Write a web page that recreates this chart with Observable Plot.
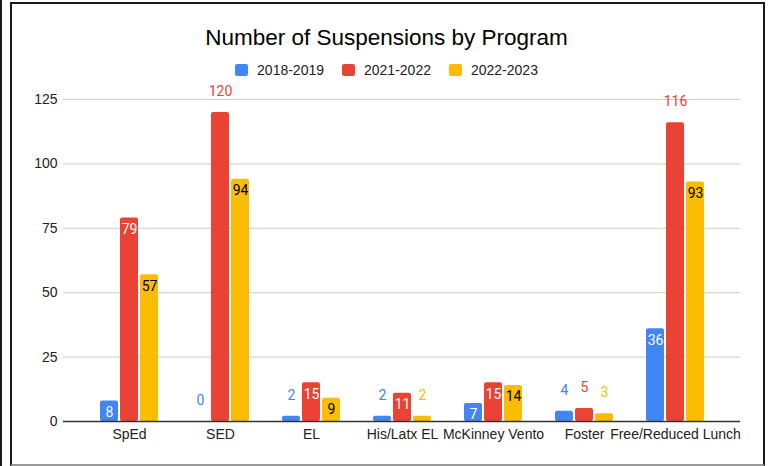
<!DOCTYPE html>
<html><head><meta charset="utf-8">
<script src="https://cdn.jsdelivr.net/npm/d3@7"></script>
<script src="https://cdn.jsdelivr.net/npm/@observablehq/plot@0.6"></script>
<style>
body{margin:0;background:#fff;}
#wrap{position:relative;width:769px;height:466px;overflow:hidden;font-family:"Liberation Sans",Arial,sans-serif;background:#fff;}
#lline{position:absolute;left:0;top:0;width:2px;height:466px;background:#1a1a1a;}
#box{position:absolute;left:10px;top:2px;width:751px;height:460px;border:2px solid #1a1a1a;border-bottom-color:#9a9a9a;}
#title{position:absolute;left:0;width:773px;top:25px;text-align:center;font-size:22.5px;line-height:26px;color:#000;}
#legend{position:absolute;top:62px;left:0;width:773px;height:16px;display:flex;justify-content:center;align-items:center;font-family:"Liberation Sans",Arial,sans-serif;font-size:14px;color:#222;}
.item{display:flex;align-items:center;margin:0 9px;}
.sw{width:13px;height:12px;border-radius:2px;margin-right:9px;}
#chart{position:absolute;left:0;top:0;}
#chart g[aria-label^="x-axis"] text, #chart g[aria-label^="y-axis"] text{font-size:14px;fill:#222;}
</style></head>
<body>
<div id="wrap">
  <div id="lline"></div>
  <div id="box"></div>
  <div id="title">Number of Suspensions by Program</div>
  <div id="legend"></div>
  <div id="chart"></div>
</div>
<script>
const categories = ["SpEd","SED","EL","His/Latx EL","McKinney Vento","Foster","Free/Reduced Lunch"];
const series = ["2018-2019","2021-2022","2022-2023"];
const values2018 = [8,0,2,2,7,4,36];
const values2021 = [79,120,15,11,15,5,116];
const values2022 = [57,94,9,2,14,3,93];
const yTicks = [0,25,50,75,100,125];

const seriesValues = [values2018, values2021, values2022];
const colors = ["#4285F4","#EA4335","#FBBC04"];
const insideText = ["#ffffff","#ffffff","#000000"];

// legend
const legend = document.getElementById("legend");
series.forEach((s,i)=>{
  const it = document.createElement("div"); it.className="item";
  const sw = document.createElement("div"); sw.className="sw"; sw.style.background=colors[i];
  const tx = document.createElement("span"); tx.textContent=s;
  it.appendChild(sw); it.appendChild(tx); legend.appendChild(it);
});

const rows = [];
seriesValues.forEach((vals,i)=>vals.forEach((v,j)=>rows.push({category:categories[j], series:series[i], si:i, value:v})));
const isOutside = d => d.value <= 5 || d.value >= 110;

const marks = [
  Plot.ruleY(yTicks.filter(t=>t>0), {stroke:"#cccccc", strokeWidth:1}),
];
series.forEach((s,i)=>{
  const data = rows.filter(d=>d.si===i);
  const dx = (i-1)*20;
  marks.push(Plot.barY(data, {x:"category", y:"value", fill:colors[i], dx, rx:2}));
  marks.push(Plot.text(data.filter(d=>!isOutside(d)), {x:"category", y:"value", text:d=>String(d.value), dx, dy:11.5, fill:insideText[i], fontSize:14, fontFamily:"Roboto"}));
  marks.push(Plot.text(data.filter(isOutside), {x:"category", y:"value", text:d=>String(d.value), dx, dy:-21, fill:colors[i], fontSize:14, fontFamily:"Roboto"}));
});
marks.push(Plot.ruleY([0], {stroke:"#333333", strokeWidth:1.4}));

const chart = Plot.plot({
  width:769, height:466,
  marginTop:99, marginBottom:45, marginLeft:63, marginRight:29,
  style:{background:"transparent", fontFamily:"Liberation Sans, Arial, sans-serif", fontSize:"14px", color:"#222", overflow:"visible"},
  x:{domain:categories, paddingInner:0.804, paddingOuter:0.59, tickSize:0, tickPadding:8, label:null},
  y:{domain:[0,125], ticks:yTicks, tickSize:0, tickPadding:6, label:null},
  marks
});
document.getElementById("chart").appendChild(chart);
</script>
</body></html>
